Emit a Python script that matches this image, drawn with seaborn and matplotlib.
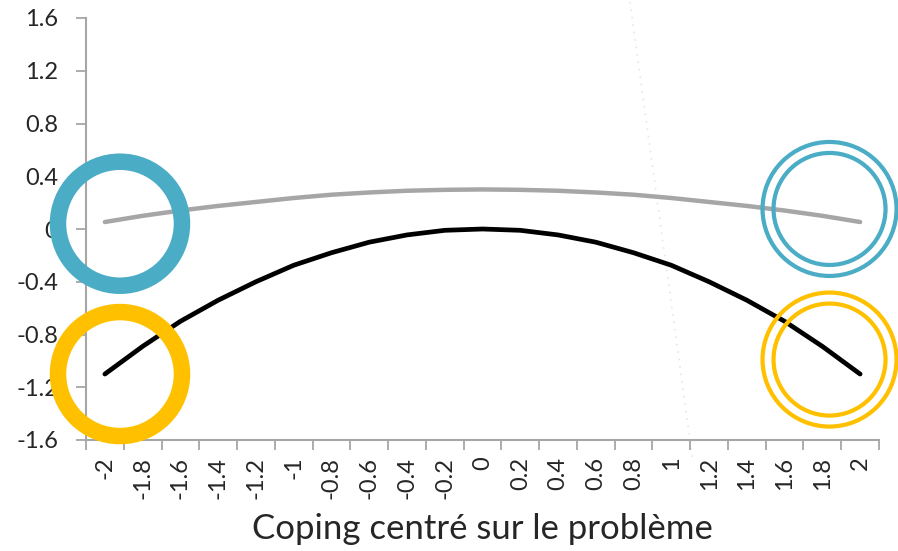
import matplotlib.pyplot as plt
import seaborn as sns
import pandas as pd
from matplotlib.patches import Circle
from matplotlib.lines import Line2D
from matplotlib.ticker import FixedLocator
from matplotlib.transforms import ScaledTranslation

# valeurs
x_values = [-2.0, -1.8, -1.6, -1.4, -1.2, -1.0, -0.8, -0.6, -0.4, -0.2, 0.0,
            0.2, 0.4, 0.6, 0.8, 1.0, 1.2, 1.4, 1.6, 1.8, 2.0]
x_labels = ["-2", "-1.8", "-1.6", "-1.4", "-1.2", "-1", "-0.8", "-0.6", "-0.4", "-0.2", "0",
            "0.2", "0.4", "0.6", "0.8", "1", "1.2", "1.4", "1.6", "1.8", "2"]
serie_haut = [0.053, 0.10, 0.14, 0.175, 0.205, 0.235, 0.26, 0.277, 0.29, 0.297, 0.30,
              0.297, 0.29, 0.277, 0.26, 0.235, 0.205, 0.175, 0.14, 0.10, 0.053]
serie_bas = [-1.10, -0.89, -0.70, -0.54, -0.40, -0.275, -0.18, -0.10, -0.045, -0.01, 0.0,
             -0.01, -0.045, -0.10, -0.18, -0.275, -0.40, -0.54, -0.70, -0.89, -1.10]
y_ticks = [-1.6, -1.2, -0.8, -0.4, 0, 0.4, 0.8, 1.2, 1.6]
y_labels = ["-1.6", "-1.2", "-0.8", "-0.4", "0", "0.4", "0.8", "1.2", "1.6"]

df = pd.DataFrame({"x": x_values, "haut": serie_haut, "bas": serie_bas})

sns.set_style("white")
plt.rcParams['font.family'] = ['Lato', 'DejaVu Sans']

fig = plt.figure(figsize=(8.98, 5.51), dpi=100)
ax = fig.add_axes([86 / 898, 111 / 551, 793 / 898, 422 / 551])
ax.patch.set_visible(False)

# trait pointillé très pâle (derrière les courbes)
fig.add_artist(Line2D([630 / 898, 693 / 898], [1 - 2 / 551, 1 - 462 / 551],
                      transform=fig.transFigure, color="#F4CDB8", linewidth=1.2,
                      linestyle=(0, (1, 3.5)), alpha=0.6, zorder=0))

sns.lineplot(data=df, x="x", y="haut", color="#A6A6A6", linewidth=3.2, ax=ax,
             solid_capstyle="round")
sns.lineplot(data=df, x="x", y="bas", color="black", linewidth=3.4, ax=ax,
             solid_capstyle="round")

ax.set_xlim(-2.1, 2.1)
ax.set_ylim(-1.6, 1.6)
ax.set_xticks(x_values)
ax.set_xticklabels(x_labels, rotation=90, fontsize=17)
ax.xaxis.set_minor_locator(FixedLocator([-2.1 + 0.2 * i for i in range(22)]))
ax.tick_params(axis="x", which="major", length=0, pad=12)
ax.tick_params(axis="x", which="minor", length=7, width=1.3, color="#A6A6A6", bottom=True)
ax.set_yticks(y_ticks)
ax.set_yticklabels(y_labels, fontsize=17)
ax.tick_params(axis="y", length=7, width=1.3, color="#A6A6A6", pad=13, left=True)

for side in ["top", "right"]:
    ax.spines[side].set_visible(False)
for side in ["left", "bottom"]:
    ax.spines[side].set_color("#A6A6A6")
    ax.spines[side].set_linewidth(1.5)

ax.set_xlabel("Coping centré sur le problème", fontsize=25, labelpad=10)
ax.set_ylabel("")

# cercles de mise en évidence
def cercle(xd, yd, rayon_px, largeur_px, couleur):
    tr = fig.dpi_scale_trans + ScaledTranslation(xd, yd, ax.transData)
    c = Circle((0, 0), rayon_px / 100, transform=tr, fill=False,
               edgecolor=couleur, linewidth=largeur_px * 0.72, clip_on=False, zorder=10)
    ax.add_artist(c)

bleu = "#4BACC6"
jaune = "#FFC000"
cercle(-1.92, 0.04, 62, 16.5, bleu)
cercle(-1.92, -1.10, 62, 16.5, jaune)
cercle(1.838, 0.152, 67, 4.2, bleu)
cercle(1.838, 0.152, 56, 4.2, bleu)
cercle(1.838, -0.99, 67, 4.2, jaune)
cercle(1.838, -0.99, 56, 4.2, jaune)

fig.savefig("out.png", dpi=100)
